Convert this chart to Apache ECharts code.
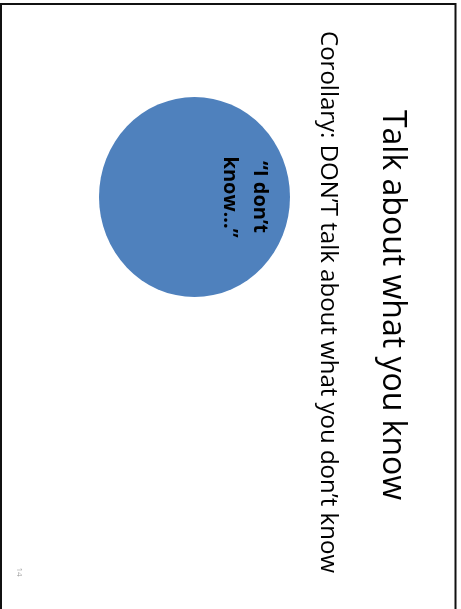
<!DOCTYPE html>
<html>
<head>
<meta charset="utf-8">
<style>
  html, body { margin: 0; padding: 0; background: #fff; }
  #chart { width: 461px; height: 609px; }
</style>
<script src="https://cdn.jsdelivr.net/npm/echarts@6/dist/echarts.min.js"></script>
</head>
<body>
<div id="chart"></div>
<script>
const titleText = 'Talk about what you know'
const subtitleText = 'Corollary: DON\u2019T talk about what you don\u2019t know'
const bubbleLabels = ['\u201cI don\u2019t', 'know\u2026\u201d']
const bubblePoint = [194.5, 197]
const pageNumber = '14'

const chart = echarts.init(document.getElementById('chart'))
const font = '"Open Sans", "Noto Sans", sans-serif'

// slide is rotated 90deg clockwise, so every text gets rotation -PI/2
const option = {
  animation: false,
  grid: { left: 0, right: 0, top: 0, bottom: 0 },
  xAxis: { type: 'value', min: 0, max: 461, show: false },
  yAxis: { type: 'value', min: 0, max: 609, inverse: true, show: false },
  series: [
    {
      type: 'scatter',
      data: [bubblePoint],
      symbol: 'circle',
      symbolSize: [191, 200],
      itemStyle: { color: '#4f81bd', opacity: 1 },
      label: {
        show: true,
        position: 'inside',
        rotate: -90,
        formatter: bubbleLabels.join('\n'),
        color: '#000',
        fontFamily: font,
        fontWeight: 'bold',
        fontSize: 20,
        lineHeight: 30,
        align: 'center',
        offset: [0, -50]
      }
    }
  ],
  graphic: [
    {
      type: 'rect',
      shape: { x: 1, y: 4, width: 454.5, height: 640 },
      style: { fill: 'none', stroke: '#111', lineWidth: 2 }
    },
    {
      type: 'text',
      x: 392, y: 305,
      rotation: -Math.PI / 2,
      style: {
        text: titleText, fill: '#000', font: '32px ' + font,
        align: 'center', verticalAlign: 'middle'
      }
    },
    {
      type: 'text',
      x: 328, y: 302,
      rotation: -Math.PI / 2,
      style: {
        text: subtitleText, fill: '#000', font: '24px ' + font,
        align: 'center', verticalAlign: 'middle'
      }
    },
    {
      type: 'text',
      x: 19, y: 572,
      rotation: -Math.PI / 2,
      style: {
        text: pageNumber, fill: '#999', font: '8px ' + font,
        align: 'center', verticalAlign: 'middle'
      }
    }
  ]
}

chart.setOption(option)
window.addEventListener('resize', () => chart.resize())
</script>
</body>
</html>
